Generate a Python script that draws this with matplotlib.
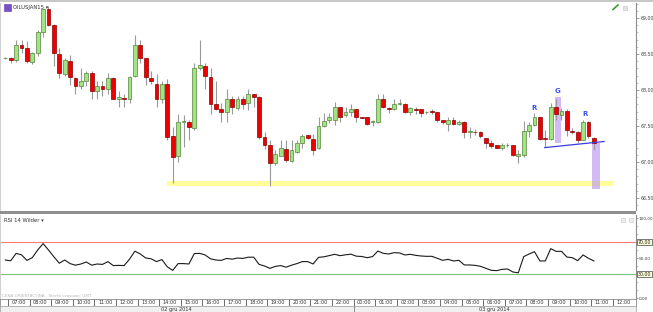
import matplotlib
matplotlib.use("Agg")
import matplotlib.pyplot as plt
import matplotlib.patches as patches
from matplotlib.transforms import blended_transform_factory
import numpy as np

W, H = 653, 312

# 15-minute candles, OILUSJAN15, 02-03 Dec 2014 (first candle 06:45)
opens = [68.44, 68.44, 68.41, 68.62, 68.59, 68.39, 68.51, 68.80, 69.12, 68.90,
         68.50, 68.22, 68.40, 68.16, 68.06, 68.12, 68.23, 67.99, 68.06, 68.01,
         68.16, 67.88, 67.89, 67.88, 68.19, 68.62, 68.44, 68.16, 68.09, 67.88,
         68.08, 67.36, 67.09, 67.56, 67.55, 67.47, 68.30, 68.33, 68.18, 67.81,
         67.74, 67.69, 67.88, 67.75, 67.88, 67.82, 67.94, 67.90, 67.35, 67.23,
         66.98, 67.09, 67.18, 67.02, 67.14, 67.26, 67.37, 67.32, 67.19, 67.50,
         67.59, 67.58, 67.76, 67.65, 67.70, 67.73, 67.62, 67.62, 67.55, 67.55,
         67.87, 67.75, 67.73, 67.81, 67.81, 67.70, 67.74, 67.73, 67.69, 67.71,
         67.69, 67.58, 67.53, 67.58, 67.53, 67.56, 67.42, 67.42, 67.42, 67.34,
         67.26, 67.23, 67.19, 67.23, 67.23, 67.09, 67.10, 67.43, 67.51, 67.62,
         67.33, 67.32, 67.76, 67.65, 67.71, 67.43, 67.42, 67.31, 67.55, 67.34]
highs = [68.46, 68.46, 68.70, 68.70, 68.68, 68.53, 68.84, 69.13, 69.17, 68.92,
         68.58, 68.45, 68.49, 68.18, 68.30, 68.27, 68.26, 68.12, 68.12, 68.24,
         68.18, 67.98, 67.95, 68.19, 68.76, 68.70, 68.45, 68.26, 68.22, 68.12,
         68.15, 67.49, 67.67, 67.65, 67.58, 68.38, 68.70, 68.38, 68.30, 68.13,
         67.82, 68.02, 67.91, 67.91, 67.91, 68.02, 67.94, 67.91, 67.41, 67.31,
         67.17, 67.30, 67.31, 67.31, 67.30, 67.39, 67.38, 67.39, 67.63, 67.68,
         67.68, 67.83, 67.77, 67.76, 67.80, 67.73, 67.63, 67.63, 67.59, 67.94,
         67.94, 67.77, 67.87, 67.87, 67.82, 67.76, 67.77, 67.74, 67.71, 67.73,
         67.70, 67.59, 67.63, 67.62, 67.58, 67.57, 67.49, 67.46, 67.43, 67.34,
         67.30, 67.24, 67.27, 67.26, 67.24, 67.17, 67.57, 67.56, 67.68, 67.63,
         67.45, 67.82, 67.87, 67.75, 67.73, 67.47, 67.43, 67.58, 67.57, 67.35]
lows = [68.43, 68.38, 68.39, 68.51, 68.37, 68.36, 68.47, 68.73, 68.89, 68.34,
        68.16, 68.19, 68.07, 67.95, 68.01, 68.06, 67.87, 67.87, 67.91, 67.95,
        67.87, 67.76, 67.76, 67.82, 68.18, 68.37, 68.07, 68.09, 67.77, 67.82,
        67.31, 66.71, 67.00, 67.21, 67.31, 67.44, 68.28, 68.02, 67.67, 67.72,
        67.56, 67.56, 67.67, 67.72, 67.73, 67.72, 67.76, 67.32, 67.18, 66.67,
        66.96, 67.08, 67.00, 67.00, 67.12, 67.19, 67.32, 67.10, 67.18, 67.49,
        67.54, 67.51, 67.56, 67.62, 67.64, 67.56, 67.61, 67.51, 67.50, 67.54,
        67.75, 67.68, 67.72, 67.79, 67.68, 67.65, 67.66, 67.62, 67.67, 67.67,
        67.56, 67.53, 67.43, 67.51, 67.51, 67.34, 67.34, 67.37, 67.34, 67.20,
        67.19, 67.19, 67.16, 67.21, 67.09, 66.98, 67.07, 67.35, 67.50, 67.31,
        67.21, 67.31, 67.58, 67.58, 67.36, 67.39, 67.26, 67.30, 67.34, 67.17]
closes = [68.44, 68.41, 68.62, 68.59, 68.40, 68.52, 68.80, 69.12, 68.90, 68.52,
          68.23, 68.42, 68.18, 68.06, 68.13, 68.23, 67.99, 68.06, 68.01, 68.16,
          67.88, 67.90, 67.88, 68.18, 68.62, 68.45, 68.18, 68.12, 67.88, 68.08,
          67.35, 67.07, 67.56, 67.56, 67.48, 68.30, 68.35, 68.19, 67.81, 67.73,
          67.69, 67.88, 67.76, 67.88, 67.81, 67.94, 67.90, 67.35, 67.23, 66.98,
          67.11, 67.19, 67.03, 67.16, 67.26, 67.36, 67.33, 67.17, 67.50, 67.57,
          67.62, 67.76, 67.63, 67.69, 67.73, 67.62, 67.61, 67.53, 67.57, 67.87,
          67.76, 67.73, 67.81, 67.81, 67.70, 67.75, 67.72, 67.68, 67.69, 67.69,
          67.58, 67.55, 67.58, 67.53, 67.56, 67.41, 67.42, 67.41, 67.36, 67.27,
          67.22, 67.20, 67.23, 67.23, 67.10, 67.11, 67.43, 67.51, 67.62, 67.32,
          67.32, 67.76, 67.67, 67.71, 67.44, 67.41, 67.31, 67.55, 67.36, 67.27]

# RSI 14 Wilder
rsi = [47.5, 46.5, 55.8, 54.0, 47.0, 50.5, 60.0, 68.0, 60.0, 51.5,
       43.5, 47.5, 43.0, 41.0, 42.5, 45.0, 41.0, 42.5, 42.0, 45.5,
       40.5, 40.8, 40.5, 48.5, 58.5, 55.0, 50.0, 49.0, 45.5, 48.0,
       39.0, 34.5, 43.0, 43.0, 42.5, 55.5, 55.8, 53.8, 49.0, 47.5,
       47.0, 49.5, 48.5, 50.0, 49.5, 51.0, 51.0, 42.0, 40.0, 37.0,
       39.5, 40.5, 38.5, 41.0, 43.0, 45.5, 45.5, 42.5, 50.8, 51.5,
       53.0, 54.6, 52.9, 54.0, 54.8, 52.3, 51.9, 50.4, 51.7, 58.7,
       55.8, 55.0, 56.7, 56.3, 53.8, 54.6, 53.3, 52.5, 52.1, 52.1,
       49.6, 47.1, 48.3, 46.3, 47.1, 41.3, 41.3, 40.8, 39.6, 37.1,
       34.6, 34.2, 35.8, 36.3, 32.5, 31.5, 51.7, 55.0, 57.9, 46.3,
       46.3, 61.7, 58.3, 58.3, 51.2, 50.4, 46.7, 53.8, 49.6, 46.3]

day1_hours = list(range(7, 23))     # 02 gru, 07:00 - 22:00
day2_hours = list(range(0, 13))     # 03 gru, 00:00 - 12:00
date_labels = ['02 gru 2014', '03 gru 2014']
price_ticks = [66.5, 67.0, 67.5, 68.0, 68.5, 69.0]
rsi_ticks = [0, 50, 100]
rsi_levels = [70, 30]

# drawn-on analysis
support_zone = (66.67, 66.73)
support_from, support_to = 29.9, 112.6
neck_x = [99.9, 110.9]
neck_y = [67.20, 67.285]
bar_x = [102.4, 109.4]
bar_lo = [67.26, 66.62]
bar_hi = [67.90, 67.27]
pattern_text = ['R', 'G', 'R']
pattern_x = [98.0, 102.3, 107.4]
pattern_y = [67.75, 67.98, 67.67]


def px_rect(x0, y0, x1, y1):
    return [x0 / W, 1 - y1 / H, (x1 - x0) / W, (y1 - y0) / H]


def comma(v):
    return f"{v:.2f}".replace('.', ',')


fig = plt.figure(figsize=(W / 100, H / 100), dpi=100)
fig.patch.set_facecolor('white')

# slot -> pixel: x = 5.3 + 5.4 * k
xmin = (0 - 5.3) / 5.4
xmax = (636 - 5.3) / 5.4

# ---------------- price panel ----------------
ax = fig.add_axes(px_rect(0, 3, 636, 210))
o = np.array(opens); h = np.array(highs); l = np.array(lows); c = np.array(closes)
x = np.arange(len(o))
up = c >= o
lo = np.minimum(o, c)
hgt = np.maximum(np.abs(c - o), 0.006)

ax.vlines(x, l, h, color='#999999', lw=0.8, zorder=3)
ax.bar(x[up], hgt[up], bottom=lo[up], width=0.72, color='#a2e483',
       edgecolor='#55843a', lw=0.5, zorder=4)
ax.bar(x[~up], hgt[~up], bottom=lo[~up], width=0.72, color='#ee0000',
       edgecolor='#8a0000', lw=0.5, zorder=4)

ax.fill_between([support_from, support_to], support_zone[0], support_zone[1],
                color='#ffff88', alpha=0.85, lw=0, zorder=2)
for bx, b0, b1, bw in zip(bar_x, bar_lo, bar_hi, [1.17, 1.35]):
    ax.add_patch(patches.Rectangle((bx - bw / 2, b0), bw, b1 - b0,
                                   color='#b48cf2', alpha=0.6, lw=0, zorder=2.5))
ax.plot(neck_x, neck_y, color='#3a3ae0', lw=0.9, zorder=5)
for t, tx, ty in zip(pattern_text, pattern_x, pattern_y):
    ax.text(tx, ty, t, color='#3a55ee', fontsize=5, fontweight='bold',
            ha='center', va='center', zorder=6)

ax.set_xlim(xmin, xmax)
ax.set_ylim(69.25 - 210 / 72, 69.25 - 3 / 72)
ax.yaxis.tick_right()
ax.set_yticks(price_ticks)
ax.set_yticklabels([comma(v) for v in price_ticks])
ax.set_yticks(np.arange(66.4, 69.25, 0.1), minor=True)
ax.tick_params(axis='y', which='major', length=2.5, width=0.5, color='#777',
               labelsize=3.4, labelcolor='#444', pad=0.8)
ax.tick_params(axis='y', which='minor', length=1.5, width=0.4, color='#999')
ax.set_xticks([])
for s in ['top', 'bottom']:
    ax.spines[s].set_visible(False)
ax.spines['left'].set_color('#d0d0d0')
ax.spines['right'].set_color('#8c8c8c')
ax.spines['right'].set_linewidth(0.8)

# ---------------- RSI panel ----------------
ar = fig.add_axes(px_rect(0, 215, 636, 299))
ar.plot(x, rsi, color='#1a1a1a', lw=0.8, zorder=3)
ar.axhline(rsi_levels[0], color='#ff7b7b', lw=0.8)
ar.axhline(rsi_levels[1], color='#7cc47c', lw=0.8)
ar.set_xlim(xmin, xmax)
ar.set_ylim((298 - 299) / 0.8, (298 - 215) / 0.8)
ar.yaxis.tick_right()
ar.set_yticks(rsi_ticks)
ar.set_yticklabels([comma(v) for v in rsi_ticks])
ar.set_yticks(np.arange(0, 101, 10), minor=True)
ar.tick_params(axis='y', which='major', length=1.5, width=0.5, color='#777',
               labelsize=3.1, labelcolor='#444', pad=0.5)
ar.tick_params(axis='y', which='minor', length=1.2, width=0.4, color='#999')
ar.set_xticks([])
for s in ['top', 'bottom']:
    ar.spines[s].set_visible(False)
ar.spines['left'].set_color('#d0d0d0')
ar.spines['right'].set_color('#8c8c8c')
ar.spines['right'].set_linewidth(0.8)
tr = blended_transform_factory(ar.transAxes, ar.transData)
for lv in rsi_levels:
    ar.text(1.003, lv, comma(lv), transform=tr, fontsize=3.4, color='#222',
            va='center', ha='left',
            bbox=dict(boxstyle='square,pad=0.12', fc='#ffffd8', ec='#444', lw=0.5))

# ---------------- time axis ----------------
at = fig.add_axes(px_rect(0, 299, 636, 306))
at.set_xlim(xmin, xmax)
at.set_ylim(0, 1)
at.set_xticks([]); at.set_yticks([])
for s in at.spines.values():
    s.set_color('#8c8c8c'); s.set_linewidth(0.6)
starts = [1 + 4 * (hh - 7) for hh in day1_hours] + [65 + 4 * hh for hh in day2_hours]
labels = [f"{hh:02d}:00" for hh in day1_hours] + [f"{hh:02d}:00" for hh in day2_hours]
for k0, lab in zip(starts, labels):
    at.axvline(k0 - 0.5, color='#555', lw=0.6)
    at.text(k0 + 1.5, 0.45, lab, fontsize=3.6, color='#333', ha='center', va='center')

ad = fig.add_axes(px_rect(0, 306, 636, 312))
ad.set_facecolor('#f0f0f0')
ad.set_xlim(xmin, xmax)
ad.set_ylim(0, 1)
ad.set_xticks([]); ad.set_yticks([])
for s in ad.spines.values():
    s.set_color('#9a9a9a'); s.set_linewidth(0.5)
ad.axvline(64.5, color='#777', lw=0.6)
ad.text((xmin + 64.5) / 2, 0.45, date_labels[0], fontsize=3.6, color='#333',
        ha='center', va='center')
ad.text((64.5 + xmax) / 2, 0.45, date_labels[1], fontsize=3.6, color='#333',
        ha='center', va='center')

# ---------------- frame decorations ----------------
fig.add_artist(patches.Rectangle((0, 1 - 214 / H), 636 / W, 3 / H,
                                 transform=fig.transFigure, color='#8f8f8f', lw=0))
fig.add_artist(patches.Rectangle((0, 1 - 1.5 / H), 1, 1.5 / H,
                                 transform=fig.transFigure, color='#c8c8c8', lw=0))
fig.add_artist(patches.Rectangle((4 / W, 1 - 11 / H), 7 / W, 7 / H,
                                 transform=fig.transFigure, fc='#7b4fc9', ec='#5a3399', lw=0.4))
fig.text(13 / W, 1 - 7.5 / H, 'OILUSJAN15 \u25be', fontsize=3.8, color='#333', va='center')
fig.text(4 / W, 1 - 221 / H, 'RSI 14 Wilder \u25be', fontsize=3.8, color='#333', va='center')
fig.text(2 / W, 1 - 296.5 / H, 'CENA ORIENTACYJNA - Strefa czasowa: GMT', fontsize=3,
         color='#b8b8b8', va='center')
fig.add_artist(plt.Line2D([613 / W, 618 / W], [1 - 9.5 / H, 1 - 5 / H],
                          transform=fig.transFigure, color='#3c9a2c', lw=1.2))
fig.add_artist(patches.Rectangle((623 / W, 1 - 9.5 / H), 4 / W, 4 / H,
                                 transform=fig.transFigure, fc='#e4e4e4', ec='#c0c0c0', lw=0.4))
for px in [621, 629]:
    fig.add_artist(patches.Rectangle((px / W, 1 - 222 / H), 4 / W, 4 / H,
                                     transform=fig.transFigure, fc='#eeeeee', ec='#c8c8c8', lw=0.4))

fig.savefig('out.png', dpi=100)
